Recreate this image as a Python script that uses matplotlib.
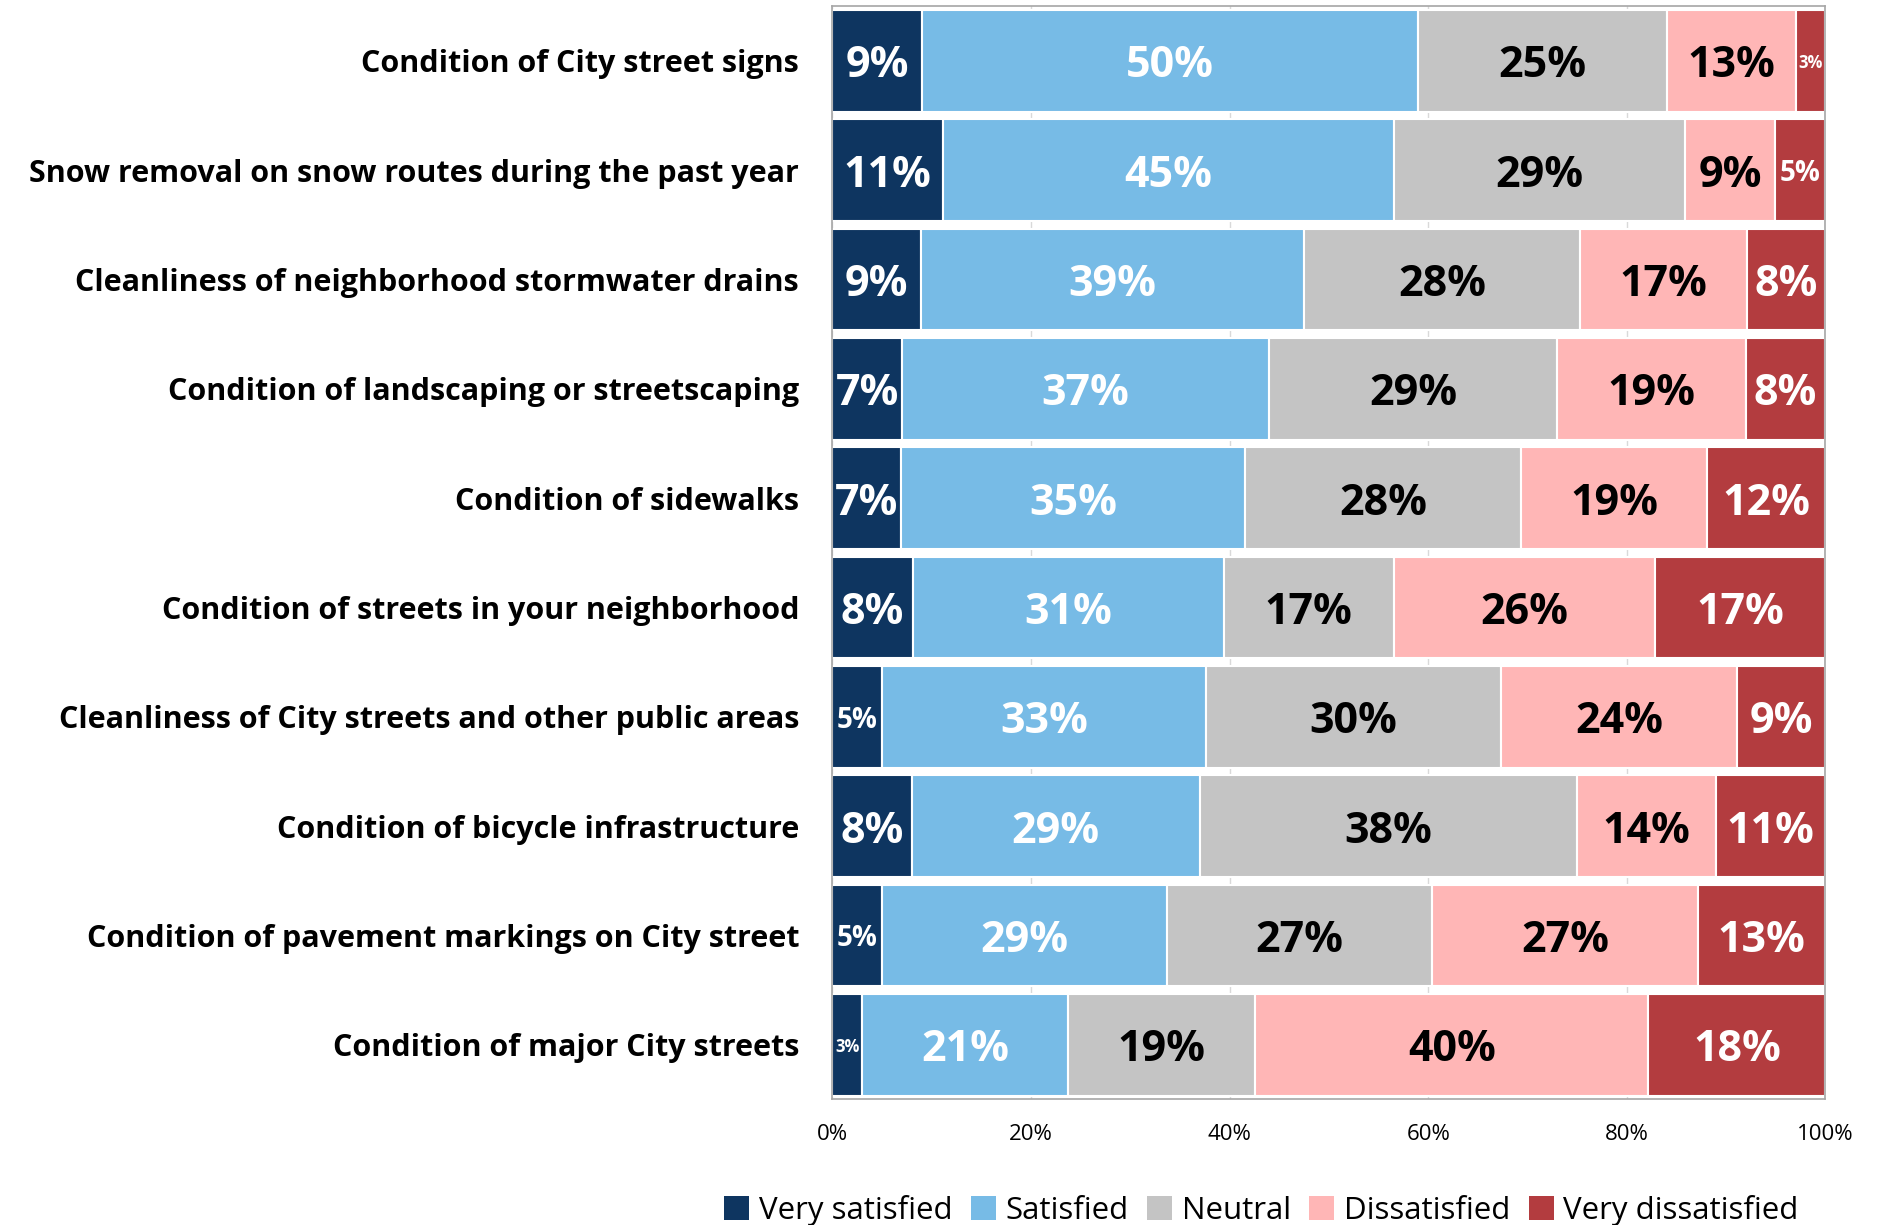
import numpy as np
import matplotlib.pyplot as plt
from matplotlib.patches import Patch

plt.rcParams['font.family'] = ['Open Sans', 'DejaVu Sans']

categories = [
    'Condition of City street signs',
    'Snow removal on snow routes during the past year',
    'Cleanliness of neighborhood stormwater drains',
    'Condition of landscaping or streetscaping',
    'Condition of sidewalks',
    'Condition of streets in your neighborhood',
    'Cleanliness of City streets and other public areas',
    'Condition of bicycle infrastructure',
    'Condition of pavement markings on City street',
    'Condition of major City streets',
]
very_satisfied = [9, 11, 9, 7, 7, 8, 5, 8, 5, 3]
satisfied = [50, 45, 39, 37, 35, 31, 33, 29, 29, 21]
neutral = [25, 29, 28, 29, 28, 17, 30, 38, 27, 19]
dissatisfied = [13, 9, 17, 19, 19, 26, 24, 14, 27, 40]
very_dissatisfied = [3, 5, 8, 8, 12, 17, 9, 11, 13, 18]

series_names = ['Very satisfied', 'Satisfied', 'Neutral', 'Dissatisfied', 'Very dissatisfied']
colors = ['#0E3560', '#77BBE6', '#C4C4C4', '#FFB6B6', '#B33C3F']
text_colors = ['white', 'white', 'black', 'black', 'white']

data = np.array([very_satisfied, satisfied, neutral, dissatisfied, very_dissatisfied], dtype=float)
shares = data / data.sum(axis=0) * 100  # stacked to 100%

fig = plt.figure(figsize=(18.77, 12.25), dpi=100)
ax = fig.add_axes([0.4435, 0.1025, 0.5290, 0.8925])

y = np.arange(len(categories))
left = np.zeros(len(categories))
for i, name in enumerate(series_names):
    ax.barh(y, shares[i], left=left, height=0.93, color=colors[i],
            edgecolor='white', linewidth=1.5, label=name, zorder=2)
    for j in range(len(categories)):
        v = int(data[i, j])
        if v <= 3:
            fs = 12
        elif v <= 5:
            fs = 20
        else:
            fs = 31
        ax.text(left[j] + shares[i, j] / 2, y[j], f'{v}%', ha='center', va='center_baseline',
                color=text_colors[i], fontsize=fs, fontweight='bold', zorder=3)
    left += shares[i]

ax.set_xlim(0, 100)
ax.set_ylim(len(categories) - 0.5, -0.5)
ax.set_yticks(y)
ax.set_yticklabels(categories, fontsize=22, fontweight='bold')
ax.set_xticks(np.arange(0, 101, 20))
ax.set_xticklabels([f'{t}%' for t in range(0, 101, 20)], fontsize=16)
ax.tick_params(axis='both', length=0)
ax.tick_params(axis='y', pad=24)
ax.tick_params(axis='x', pad=18)
ax.grid(axis='x', color='#D9D9D9', linewidth=1, zorder=0)
ax.set_axisbelow(True)
for s in ax.spines.values():
    s.set_color('#A6A6A6')
    s.set_linewidth(1.2)

handles = [Patch(facecolor=c, edgecolor='none') for c in colors]
fig.legend(handles, series_names, loc='center', bbox_to_anchor=(0.672, 0.012),
           ncol=5, frameon=False, fontsize=22.5, handlelength=0.8, handleheight=0.8,
           handletextpad=0.3, columnspacing=0.6)

fig.savefig('out.png', dpi=100)
